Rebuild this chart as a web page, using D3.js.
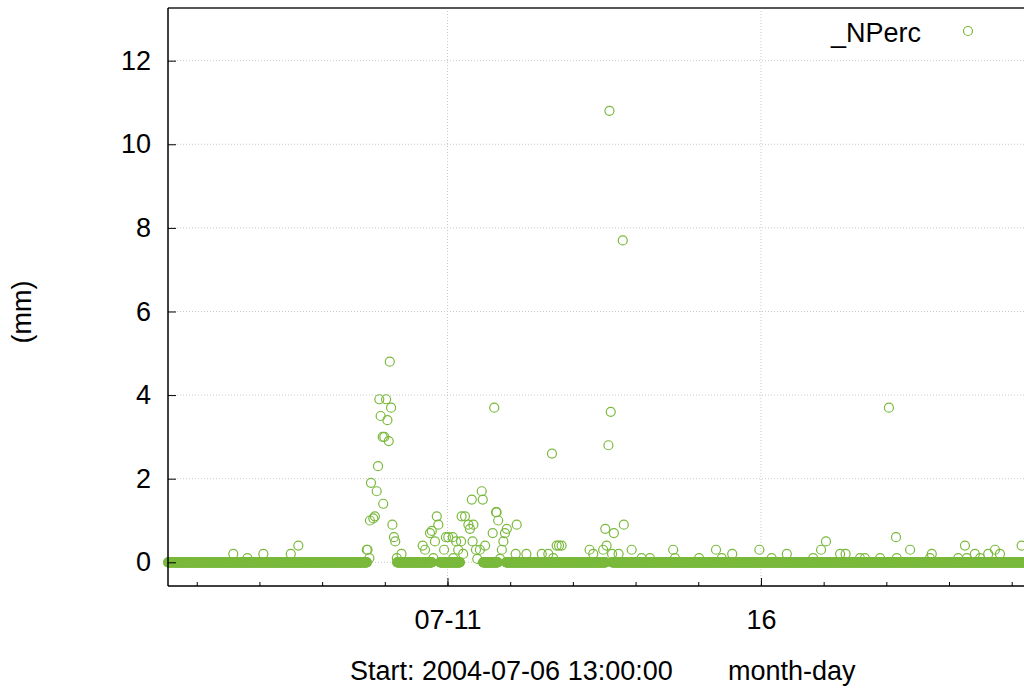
<!DOCTYPE html>
<html lang="en">

<head>
    <meta charset="UTF-8">
    <title>_NPerc</title>
    <style>
        body { margin: 0; background: #fff; }
        text { font-family: "Liberation Sans", Arial, sans-serif; }
    </style>
</head>

<body>
    <div id="wrapper"></div>
    <script src="https://d3js.org/d3.v7.min.js"></script>
    <script>
        // start of record and step of the logger (minutes)
        const startTime = new Date(2004, 6, 6, 13, 0, 0);
        const stepMinutes = 10;
        const spanHours = 330;

        // readings above zero: hours since start, value in mm
        const rainHours = [25.0, 30.4, 36.5, 47.0, 49.9,
            76.1, 76.4, 77.1, 77.3, 77.7, 78.6, 79.2, 79.9, 80.4, 80.9, 81.4, 82.2, 82.4, 82.8,
            83.5, 84.0, 84.5, 84.9, 85.4, 85.9, 86.5, 87.0, 87.6, 89.4,
            97.5, 98.4, 100.3, 101.0, 101.6, 102.2, 102.9, 103.5, 105.7, 106.4, 107.3, 109.0,
            109.2, 110.3, 111.1, 112.2, 112.4, 113.0, 113.7, 115.0, 115.6, 116.3, 116.6, 116.9,
            117.9, 118.4, 119.4, 120.1, 120.5, 121.4, 124.3, 124.9, 125.6, 125.8, 126.4, 127.1,
            127.8, 128.4, 129.0, 129.7, 133.1, 133.5, 137.2, 143.1, 145.6, 147.0, 147.5, 148.8,
            149.7, 150.7, 161.4, 162.8, 166.6, 167.4, 167.9, 168.6, 169.0, 169.5, 170.0, 170.7,
            172.5, 174.1, 174.5, 177.5, 181.3, 184.5, 193.4, 194.1, 203.3, 209.8, 212.0, 216.0,
            226.4, 231.1, 236.9, 247.0, 250.0, 251.9, 257.3, 259.4, 264.9, 266.8, 272.6, 276.0,
            278.7, 279.0, 284.1, 291.7, 292.4, 302.5, 305.1, 305.8, 308.9, 310.9, 314.0, 316.6,
            318.5, 326.8];
        const rainValues = [0.2, 0.1, 0.2, 0.2, 0.4,
            0.3, 0.3, 0.1, 1.0, 1.9, 1.05, 1.1, 1.7, 2.3, 3.9, 3.5, 3.0, 1.4, 3.0,
            3.9, 3.4, 2.9, 4.8, 3.7, 0.9, 0.6, 0.5, 0.1, 0.2,
            0.4, 0.3, 0.7, 0.75, 0.1, 0.5, 1.1, 0.9, 0.3, 0.6, 0.6, 0.6,
            0.1, 0.5, 0.3, 0.5, 1.1, 0.2, 1.1, 0.9, 0.8, 1.5, 0.5, 0.9,
            0.3, 0.08, 0.3, 1.7, 1.5, 0.4, 0.7, 3.7, 1.2, 1.2, 1.0, 0.08,
            0.3, 0.5, 0.7, 0.8, 0.2, 0.9, 0.2, 0.2, 0.2, 2.6, 0.1, 0.4,
            0.4, 0.4, 0.3, 0.2, 0.3, 0.8, 0.4, 2.8, 10.8, 3.6, 0.2, 0.7,
            0.2, 7.7, 0.9, 0.3, 0.1, 0.1, 0.3, 0.1, 0.1, 0.3, 0.1, 0.2,
            0.3, 0.1, 0.2, 0.1, 0.3, 0.5, 0.2, 0.2, 0.1, 0.1, 0.1, 3.7,
            0.6, 0.1, 0.3, 0.1, 0.2, 0.1, 0.4, 0.1, 0.2, 0.1, 0.2, 0.3,
            0.2, 0.4];

        // dry spells (value 0 at every step): from hour, to hour
        const dryFrom = [0, 87.7, 104.1, 120.6, 129.4, 170.0];
        const dryTo = [76.2, 101.1, 111.8, 126.3, 167.7, 330];

        const yTicks = [0, 2, 4, 6, 8, 10, 12];
        const xMajor = [new Date(2004, 6, 11), new Date(2004, 6, 16)];
        const xMajorLabels = ['07-11', '16'];

        const width = 1024,
            height = 688;
        const m = { left: 168, right: 1030, top: 8, bottom: 586 };
        const green = '#7ab93c';
        const fontSize = '27px';

        const svg = d3.select('#wrapper').append('svg')
            .attr('width', width)
            .attr('height', height)
            .style('display', 'block');

        const hourToDate = h => new Date(startTime.getTime() + h * 3600e3);

        // build points
        let dataset = [];
        dryFrom.forEach((f, i) => {
            for (let mm = f * 60; mm <= dryTo[i] * 60; mm += stepMinutes) {
                dataset.push({ t: hourToDate(mm / 60), v: 0 });
            }
        });
        rainHours.forEach((h, i) => dataset.push({ t: hourToDate(h), v: rainValues[i] }));

        const x = d3.scaleTime()
            .domain([startTime, hourToDate(spanHours)])
            .range([m.left, m.right]);
        const y = d3.scaleLinear()
            .domain([-0.567, 13.26])
            .range([m.bottom, m.top]);

        // grid
        const grid = svg.append('g').attr('stroke', '#c8c8c8').attr('stroke-dasharray', '1,2');
        grid.selectAll('.gy').data(yTicks).join('line')
            .attr('class', 'gy')
            .attr('x1', m.left).attr('x2', width)
            .attr('y1', d => y(d)).attr('y2', d => y(d));
        grid.selectAll('.gx').data(xMajor).join('line')
            .attr('class', 'gx')
            .attr('x1', d => x(d)).attr('x2', d => x(d))
            .attr('y1', m.top).attr('y2', m.bottom);

        // points (not clipped, like the original)
        svg.append('g')
            .selectAll('circle')
            .data(dataset)
            .join('circle')
            .attr('cx', d => x(d.t))
            .attr('cy', d => y(d.v))
            .attr('r', 4.5)
            .attr('fill', 'none')
            .attr('stroke', green)
            .attr('stroke-width', 1.2);

        // axes
        const yAxis = d3.axisLeft(y)
            .tickValues(yTicks)
            .tickSize(-8)
            .tickPadding(17);
        const yG = svg.append('g')
            .attr('transform', `translate(${m.left},0)`)
            .call(yAxis);
        yG.select('.domain').remove();
        yG.selectAll('text').style('font-size', fontSize).attr('fill', '#000');

        const xMinor = d3.axisBottom(x)
            .ticks(d3.timeDay)
            .tickSize(-4)
            .tickFormat('');
        const xmG = svg.append('g')
            .attr('transform', `translate(0,${m.bottom})`)
            .call(xMinor);
        xmG.select('.domain').remove();

        const xAxis = d3.axisBottom(x)
            .tickValues(xMajor)
            .tickSize(-8)
            .tickPadding(24)
            .tickFormat((d, i) => xMajorLabels[i]);
        const xG = svg.append('g')
            .attr('transform', `translate(0,${m.bottom})`)
            .call(xAxis);
        xG.select('.domain').remove();
        xG.selectAll('text').style('font-size', fontSize).attr('fill', '#000');

        // frame
        svg.append('line').attr('x1', m.left).attr('x2', width).attr('y1', m.top).attr('y2', m.top)
            .attr('stroke', '#555').attr('stroke-width', 2);
        svg.append('line').attr('x1', m.left).attr('x2', m.left).attr('y1', m.top).attr('y2', m.bottom)
            .attr('stroke', '#000').attr('stroke-width', 1.5);
        svg.append('line').attr('x1', m.left).attr('x2', width).attr('y1', m.bottom).attr('y2', m.bottom)
            .attr('stroke', '#000').attr('stroke-width', 1.5);

        // labels
        svg.append('text')
            .attr('transform', 'translate(31,312) rotate(-90)')
            .attr('text-anchor', 'middle')
            .style('font-size', fontSize)
            .text('(mm)');
        svg.append('text')
            .attr('x', 350).attr('y', 680)
            .style('font-size', fontSize)
            .text('Start: 2004-07-06 13:00:00');
        svg.append('text')
            .attr('x', 728).attr('y', 680)
            .style('font-size', fontSize)
            .text('month-day');

        // legend
        svg.append('text')
            .attr('x', 921).attr('y', 42)
            .attr('text-anchor', 'end')
            .style('font-size', fontSize)
            .text('_NPerc');
        svg.append('circle')
            .attr('cx', 968).attr('cy', 31).attr('r', 4.5)
            .attr('fill', 'none').attr('stroke', green).attr('stroke-width', 1.2);
    </script>
</body>

</html>
